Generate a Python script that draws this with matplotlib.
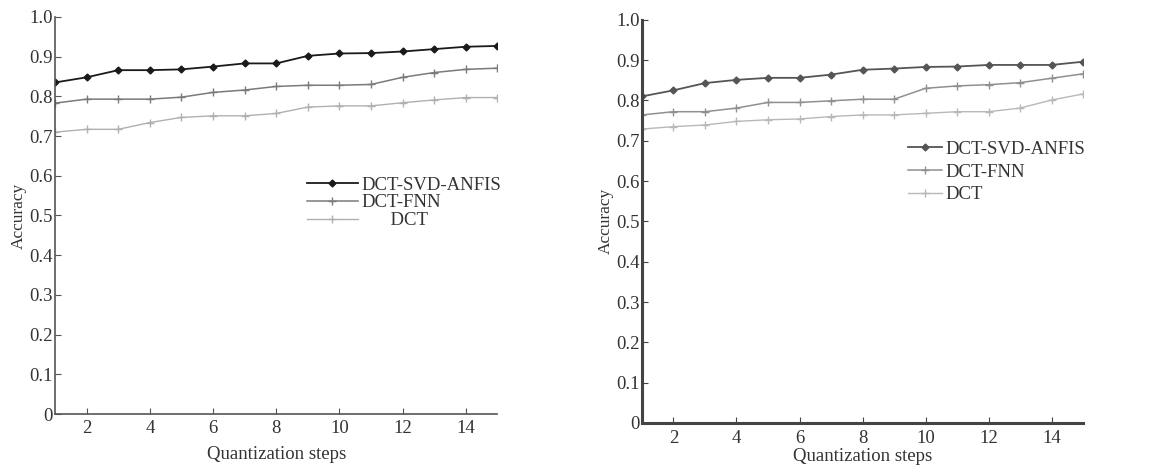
import numpy as np
import matplotlib

matplotlib.use("Agg")
import matplotlib.pyplot as plt


# ======================================================================================== #
# Dados (acurácia por passo de quantização).
# ======================================================================================== #

passos = np.arange(1, 16)
rotulos_esq = ["DCT-SVD-ANFIS", "DCT-FNN", "      DCT"]
rotulos_dir = ["DCT-SVD-ANFIS", "DCT-FNN", "DCT"]

# Gráfico da esquerda
anfis_esq = [0.835, 0.848, 0.866, 0.866, 0.868, 0.875, 0.883, 0.883,
             0.902, 0.908, 0.909, 0.913, 0.919, 0.925, 0.927]
fnn_esq = [0.783, 0.793, 0.793, 0.793, 0.798, 0.810, 0.816, 0.825,
           0.828, 0.828, 0.830, 0.848, 0.860, 0.868, 0.871]
dct_esq = [0.710, 0.717, 0.717, 0.734, 0.747, 0.751, 0.751, 0.757,
           0.773, 0.776, 0.776, 0.784, 0.791, 0.797, 0.797]

# Gráfico da direita
anfis_dir = [0.810, 0.825, 0.843, 0.851, 0.856, 0.856, 0.864, 0.876,
             0.879, 0.883, 0.884, 0.888, 0.888, 0.888, 0.896]
fnn_dir = [0.764, 0.772, 0.772, 0.781, 0.795, 0.795, 0.799, 0.803,
           0.803, 0.830, 0.836, 0.839, 0.844, 0.855, 0.866]
dct_dir = [0.729, 0.735, 0.739, 0.748, 0.752, 0.754, 0.760, 0.764,
           0.764, 0.768, 0.772, 0.772, 0.781, 0.801, 0.816]

marcas_y = np.arange(0, 1.01, 0.1)
rotulos_y = ["0"] + [f"{v:.1f}" for v in marcas_y[1:]]
marcas_x = np.arange(2, 15, 2)

plt.rcParams["font.family"] = ["Liberation Serif", "DejaVu Serif"]
plt.rcParams["font.size"] = 13.5


def desenhar_painel(ax, series, rotulos, cores, cor_eixo, largura_eixo,
                    pos_legenda, tam_handle, espaco_linhas, pad_x, pad_label):
    estilos = [
        dict(marker="D", markersize=3.5, linewidth=1.3),
        dict(marker="+", markersize=6, linewidth=1.1),
        dict(marker="+", markersize=6, linewidth=1.0),
    ]
    for valores, cor, estilo, rotulo in zip(series, cores, estilos, rotulos):
        ax.plot(passos, valores, color=cor, label=rotulo, **estilo)

    ax.set_xlim(1, 15)
    ax.set_ylim(0, 1.0)
    ax.set_xticks(marcas_x)
    ax.set_yticks(marcas_y)
    ax.set_yticklabels(rotulos_y)
    ax.tick_params(direction="in", length=4, color=cor_eixo, labelcolor="#333333")
    ax.tick_params(axis="y", pad=1.5)
    ax.tick_params(axis="x", pad=pad_x)

    ax.spines["top"].set_visible(False)
    ax.spines["right"].set_visible(False)
    for lado in ["left", "bottom"]:
        ax.spines[lado].set_color(cor_eixo)
        ax.spines[lado].set_linewidth(largura_eixo)

    ax.set_xlabel("Quantization steps", color="#333333", labelpad=pad_label)
    ax.set_ylabel("Accuracy", color="#333333", fontsize=12.5, labelpad=2)

    ax.legend(
        loc="upper left",
        bbox_to_anchor=pos_legenda,
        frameon=False,
        borderpad=0,
        borderaxespad=0,
        handlelength=tam_handle,
        handletextpad=0.2,
        labelspacing=espaco_linhas,
        labelcolor="#333333",
    )


fig = plt.figure(figsize=(11.64, 4.71), dpi=100)

ax_esq = fig.add_axes([0.0473, 0.121, 0.380, 0.843])
desenhar_painel(
    ax_esq,
    [anfis_esq, fnn_esq, dct_esq],
    rotulos_esq,
    ["#1a1a1a", "#7a7a7a", "#b0b0b0"],
    "#555555",
    1.2,
    (0.570, 0.598),
    2.7,
    0.03,
    4,
    7,
)

ax_dir = fig.add_axes([0.5515, 0.102, 0.379, 0.856])
desenhar_painel(
    ax_dir,
    [anfis_dir, fnn_dir, dct_dir],
    rotulos_dir,
    ["#555555", "#909090", "#b8b8b8"],
    "#444444",
    2.2,
    (0.603, 0.700),
    1.8,
    0.3,
    5,
    1,
)

fig.savefig("out.png", dpi=100)
plt.close(fig)
